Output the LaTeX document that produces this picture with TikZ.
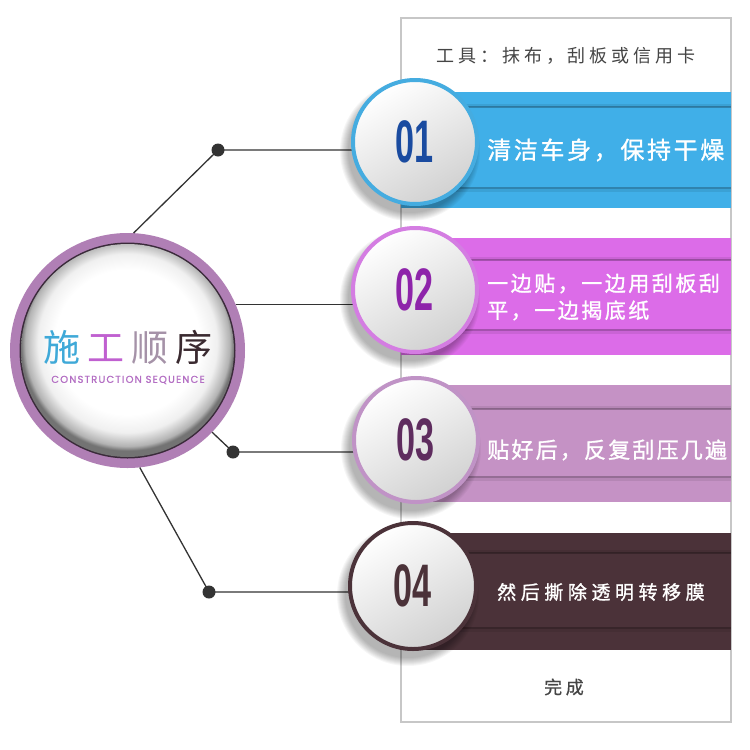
\documentclass[tikz,border=0pt]{standalone}
\usepackage{fontspec}
\usepackage{graphicx}
\setmainfont{Liberation Sans}
\newfontfamily\cjk{Noto Sans CJK SC}
\newfontfamily\seqfont{Poppins}
\definecolor{blueband}{HTML}{40AFE8}
\definecolor{bluering}{HTML}{45ACE0}
\definecolor{bluenum}{HTML}{1A4BA0}
\definecolor{magband}{HTML}{DC6CE8}
\definecolor{magring}{HTML}{D47DE2}
\definecolor{magnum}{HTML}{8E24AA}
\definecolor{mauveband}{HTML}{C592C5}
\definecolor{mauvering}{HTML}{C093C6}
\definecolor{mauvenum}{HTML}{5E2C5E}
\definecolor{darkband}{HTML}{4B3239}
\definecolor{mainring}{HTML}{B07FB5}
\definecolor{mainline}{HTML}{3A2A3A}
\definecolor{txtgray}{HTML}{454545}
\definecolor{conncol}{HTML}{333333}
\definecolor{tblue}{HTML}{3FA9D8}
\definecolor{tmag}{HTML}{C060D0}
\definecolor{tmauve}{HTML}{A592A8}
\definecolor{tdark}{HTML}{3A2A30}
\definecolor{seqcol}{HTML}{B46FC4}
\pgfdeclareradialshading{innerglow}{\pgfpoint{0bp}{3bp}}{color(0bp)=(white); color(17bp)=(white); color(21bp)=(black!6); color(24bp)=(black!30); color(25bp)=(black!55); color(50bp)=(black!55)}
\newcommand\numtxt[2]{\textcolor{#1}{\scalebox{0.57}[1]{\fontsize{60pt}{60pt}\selectfont\bfseries #2}}}
\newcommand\stepband[5]{%
  \fill[#5] (401,#1) rectangle (731,#4);
  \draw[#5!55!black, line width=1.4pt, opacity=0.55] (401,#2) -- (731,#2);
  \draw[#5!55!black, line width=1.4pt, opacity=0.55] (401,#3) -- (731,#3);
  \draw[black, line width=3pt, opacity=0.08] (401,#2-2) -- (731,#2-2);
  \draw[black, line width=3pt, opacity=0.08] (401,#3+2) -- (731,#3+2);
}
\newcommand\softshadow[2]{%
  \foreach \k in {1,...,9} {\fill[black, opacity=0.035] ([shift={(-5,9)}]#1) circle ({#2+9-\k});}
}
\tikzset{
  panelbox/.style={draw=black!22, line width=1.5pt, fill=white, minimum width=330pt, minimum height=704pt, inner sep=0pt},
  stepcircle/.style={circle, inner sep=0pt, minimum size=124pt, line width=4pt, shading=axis, top color=white, bottom color=black!18, shading angle=30},
  conn/.style={draw=conncol, line width=1.3pt},
  bandtext/.style={anchor=west, text=white, inner sep=0pt, align=left},
  graytext/.style={text=txtgray, inner sep=0pt}
}
\begin{document}
\begin{tikzpicture}[x=1pt,y=-1pt]
\useasboundingbox (0,0) rectangle (750,750);
\fill[white] (0,0) rectangle (750,750);
% panel
\node[panelbox] (panel) at (566,370) {};
\node[graytext, font=\cjk\fontsize{18pt}{20pt}\selectfont\addfontfeature{LetterSpace=22}] (tools) at (566,56) {工具：抹布，刮板或信用卡};
% bands
\stepband{92}{107}{188}{208}{blueband}
\stepband{238}{260}{330}{355}{magband}
\stepband{385}{409}{477}{502}{mauveband}
\stepband{533}{553}{628}{650}{darkband}
% main circle
\node[circle, minimum size=235pt, inner sep=0pt, fill=mainring] (main) at (127.5,350.5) {};
\fill[mainline] (main.center) circle (108);
\shade[shading=innerglow] (main.center) circle (106.5);
\node[inner sep=0pt, font=\cjk\fontsize{37pt}{40pt}\selectfont] (title) at (128,347)
  {\textcolor{tblue}{施}\hspace{7pt}\textcolor{tmag}{工}\hspace{7pt}\textcolor{tmauve}{顺}\hspace{7pt}\textcolor{tdark}{序}};
\node[inner sep=0pt, text=seqcol, font=\seqfont\fontsize{10pt}{11pt}\selectfont\addfontfeature{LetterSpace=12,FakeBold=1}] (seq) at (128,380) {CONSTRUCTION SEQUENCE};
% positions
\coordinate (c1pos) at (415,142);
\coordinate (c2pos) at (415,290);
\coordinate (c3pos) at (416,440);
\coordinate (c4pos) at (413,586);
\coordinate (d1) at (218,150);
\coordinate (d3) at (233,452);
\coordinate (d4) at (209,592);
% connectors
\draw[conn] (main.87) -- (d1) -- (d1 -| c1pos);
\draw[conn] (main.23) -- (main.23 -| c2pos);
\draw[conn] (main.-44) -- (d3) -- (d3 -| c3pos);
\draw[conn] (main.-84) -- (d4) -- (d4 -| c4pos);
\fill[conncol] (d1) circle (6.5);
\fill[conncol] (d3) circle (6.5);
\fill[conncol] (d4) circle (6.5);
% shadows of step circles
\softshadow{c1pos}{62}
\softshadow{c2pos}{62}
\softshadow{c3pos}{62}
\softshadow{c4pos}{63}
% step circles
\node[stepcircle, draw=bluering] (c1) at (c1pos) {\numtxt{bluenum}{01}};
\node[stepcircle, draw=magring] (c2) at (c2pos) {\numtxt{magnum}{02}};
\node[stepcircle, draw=mauvering] (c3) at (c3pos) {\numtxt{mauvenum}{03}};
\node[stepcircle, draw=darkband, minimum size=126pt] (c4) at (c4pos) {\numtxt{darkband}{04}};
% band texts
\node[bandtext, font=\cjk\fontsize{24pt}{26pt}\selectfont\addfontfeature{LetterSpace=11,FakeBold=1.2}] (t1) at (487,150) {清洁车身，保持干燥};
\node[bandtext, font=\cjk\fontsize{21pt}{27pt}\selectfont\addfontfeature{LetterSpace=12,FakeBold=1.2}] (t2) at (487,297) {一边贴，一边用刮板刮\\平，一边揭底纸};
\node[bandtext, font=\cjk\fontsize{22pt}{24pt}\selectfont\addfontfeature{LetterSpace=10,FakeBold=1.2}] (t3) at (487,450) {贴好后，反复刮压几遍};
\node[bandtext, font=\cjk\fontsize{19pt}{22pt}\selectfont\addfontfeature{LetterSpace=24,FakeBold=1.2}] (t4) at (497,592) {然后撕除透明转移膜};
\node[graytext, font=\cjk\fontsize{18pt}{20pt}\selectfont\addfontfeature{LetterSpace=20,FakeBold=0.6}] (done) at (564,687) {完成};
\end{tikzpicture}
\end{document}
